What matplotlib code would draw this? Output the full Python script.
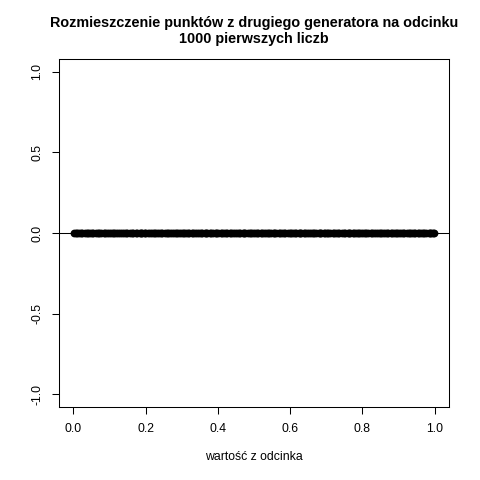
import matplotlib
matplotlib.use("Agg")
import matplotlib.pyplot as plt

x_vals = [
    0.001, 0.006, 0.009, 0.014, 0.022, 0.025, 0.031, 0.038, 0.041, 0.047,
    0.052, 0.055, 0.063, 0.068, 0.071, 0.077, 0.084, 0.088, 0.093, 0.098,
    0.103, 0.109, 0.112, 0.119, 0.124, 0.128, 0.135, 0.139, 0.146, 0.149,
    0.157, 0.161, 0.166, 0.172, 0.175, 0.183, 0.186, 0.191, 0.197, 0.199,
    0.206, 0.211, 0.217, 0.222, 0.227, 0.231, 0.238, 0.242, 0.245, 0.253,
    0.258, 0.261, 0.267, 0.274, 0.278, 0.283, 0.286, 0.292, 0.297, 0.302,
    0.307, 0.313, 0.316, 0.321, 0.329, 0.332, 0.337, 0.341, 0.348, 0.352,
    0.356, 0.363, 0.367, 0.371, 0.378, 0.381, 0.387, 0.394, 0.396, 0.401,
    0.409, 0.412, 0.418, 0.423, 0.426, 0.434, 0.437, 0.443, 0.447, 0.452,
    0.458, 0.461, 0.469, 0.472, 0.476, 0.483, 0.488, 0.491, 0.498, 0.503,
    0.507, 0.512, 0.519, 0.523, 0.527, 0.534, 0.538, 0.541, 0.547, 0.554,
    0.556, 0.562, 0.568, 0.573, 0.577, 0.584, 0.587, 0.593, 0.599, 0.602,
    0.608, 0.613, 0.617, 0.624, 0.628, 0.631, 0.639, 0.642, 0.648, 0.651,
    0.657, 0.664, 0.667, 0.672, 0.679, 0.683, 0.686, 0.693, 0.697, 0.702,
    0.706, 0.711, 0.718, 0.722, 0.727, 0.733, 0.736, 0.744, 0.748, 0.751,
    0.759, 0.762, 0.766, 0.773, 0.777, 0.782, 0.789, 0.792, 0.796, 0.803,
    0.808, 0.811, 0.817, 0.824, 0.826, 0.833, 0.838, 0.842, 0.849, 0.853,
    0.856, 0.862, 0.869, 0.872, 0.878, 0.883, 0.887, 0.894, 0.897, 0.902,
    0.907, 0.913, 0.916, 0.923, 0.928, 0.931, 0.937, 0.942, 0.946, 0.953,
    0.957, 0.962, 0.968, 0.971, 0.977, 0.984, 0.987, 0.991, 0.996, 0.999,
]
y_vals = [0.0] * len(x_vals)

x_ticks = [0.0, 0.2, 0.4, 0.6, 0.8, 1.0]
x_labels = ["0.0", "0.2", "0.4", "0.6", "0.8", "1.0"]
y_ticks = [-1.0, -0.5, 0.0, 0.5, 1.0]
y_labels = ["-1.0", "-0.5", "0.0", "0.5", "1.0"]

title = "Rozmieszczenie punktów z drugiego generatora na odcinku\n1000 pierwszych liczb"
xlabel = "wartość z odcinka"

plt.rcParams["font.family"] = ["Liberation Sans", "DejaVu Sans"]

fig = plt.figure(figsize=(4.8, 4.8), dpi=100)
ax = fig.add_axes([59 / 480, 1 - 407 / 480, 390 / 480, 348 / 480])

# open circles, packed so tightly they merge into a solid band
ax.plot(x_vals, y_vals, linestyle="none", marker="o", markersize=3.6,
        markerfacecolor="none", markeredgecolor="black", markeredgewidth=2.0)
ax.axhline(0, color="black", linewidth=0.75)

ax.set_xlim(-0.04, 1.04)
ax.set_ylim(-1.08, 1.08)
ax.set_xticks(x_ticks)
ax.set_xticklabels(x_labels)
ax.set_yticks(y_ticks)
ax.set_yticklabels(y_labels, rotation=90, va="center")
ax.tick_params(direction="out", length=5.0, width=0.75, pad=6.5,
               labelsize=8.8, colors="black")

for sp in ax.spines.values():
    sp.set_linewidth(0.75)
    sp.set_color("black")

fig.text(254 / 480, 1 - 31 / 480, title, ha="center", va="center",
         fontsize=10.4, fontweight="bold", linespacing=1.25)
fig.text(254 / 480, 1 - 457 / 480, xlabel, ha="center", va="center",
         fontsize=8.8)

fig.savefig("out.png", dpi=100, facecolor="white")
